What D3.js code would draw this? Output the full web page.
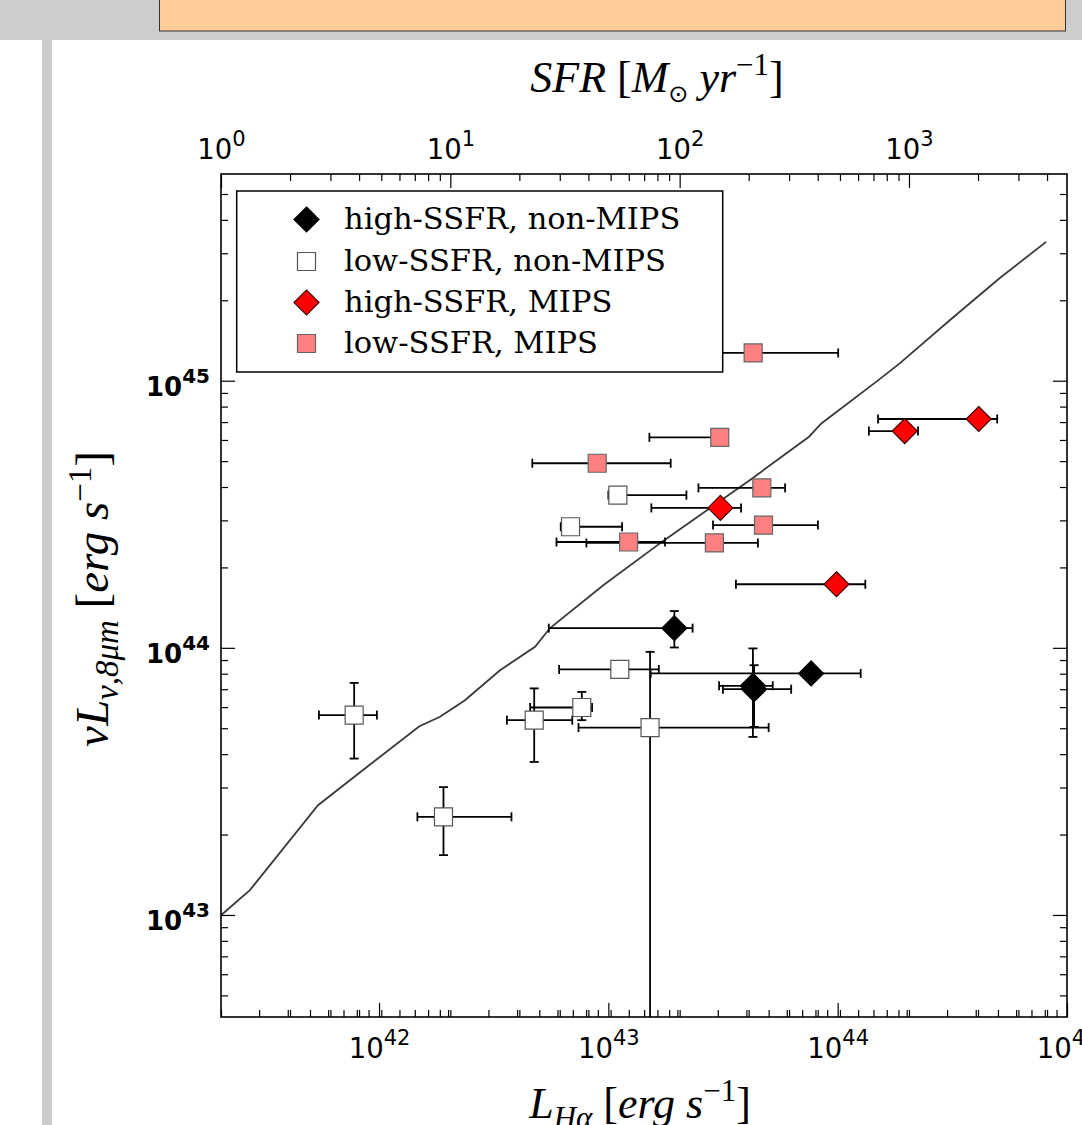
<!DOCTYPE html>
<html><head><meta charset="utf-8">
<script src="https://cdn.jsdelivr.net/npm/d3@7"></script>
<style>body{margin:0;background:#fff;} svg{display:block;}</style>
</head><body><svg id="c" width="1082" height="1125"></svg>
<script>
// ---------------- DATA ----------------
const seriesNames = ["high-SSFR, non-MIPS", "low-SSFR, non-MIPS", "high-SSFR, MIPS", "low-SSFR, MIPS"];
// each row: [L_Halpha, L_lo, L_hi, nuL8, nuL8_lo, nuL8_hi] (null = no y error)
const highNonMips = [
  [1.94e43, 5.50e42, 2.33e43, 1.185e44, 1.003e44, 1.373e44],
  [7.66e43, 1.53e43, 1.26e44, 8.02e43, null, null],
  [4.27e43, 3.04e43, 5.21e43, 7.21e43, 4.64e43, 9.95e43],
  [4.32e43, 3.16e43, 6.27e43, 7.00e43, 5.06e43, 8.61e43]
];
const lowNonMips = [
  [1.10e43, 1.00e43, 2.19e43, 3.73e44, null, null],
  [6.84e42, 6.20e42, 1.148e43, 2.84e44, null, null],
  [1.122e43, 6.10e42, 1.66e43, 8.30e43, null, null],
  [7.66e42, 4.56e42, 8.49e42, 5.98e43, 5.36e43, 6.84e43],
  [4.75e42, 3.61e42, 6.96e42, 5.36e43, 3.74e43, 7.05e43],
  [7.79e41, 5.47e41, 9.79e41, 5.60e43, 3.85e43, 7.39e43],
  [1.52e43, 7.41e42, 5.00e43, 5.03e43, 1.0e42, 9.66e43],
  [1.91e42, 1.47e42, 3.78e42, 2.33e43, 1.675e43, 3.01e43]
];
const highMips = [
  [4.12e44, 1.50e44, 4.96e44, 7.19e44, null, null],
  [1.96e44, 1.368e44, 2.24e44, 6.48e44, null, null],
  [3.08e43, 1.54e43, 3.79e43, 3.34e44, null, null],
  [9.88e43, 3.60e43, 1.32e44, 1.73e44, null, null]
];
const lowMips = [
  [4.28e43, 2.27e43, 1.005e44, 1.27e45, null, null],
  [3.06e43, 1.51e43, 3.23e43, 6.14e44, null, null],
  [8.94e42, 4.66e42, 1.87e43, 4.91e44, null, null],
  [4.67e43, 2.47e43, 5.90e43, 3.97e44, null, null],
  [4.75e43, 2.86e43, 8.20e43, 2.88e44, null, null],
  [1.226e43, 5.94e42, 1.766e43, 2.49e44, null, null],
  [2.90e43, 8.02e42, 4.49e43, 2.47e44, null, null]
];
// model relation curve
const curveL   = [2.046e41, 2.735e41, 5.42e41, 9.14e41, 1.50e42, 1.845e42, 2.37e42, 3.37e42, 4.79e42, 5.57e42, 9.53e42, 1.754e43, 4.15e43, 7.50e43, 8.49e43, 1.51e44, 1.87e44, 3.09e44, 5.11e44, 8.11e44];
const curveNuL = [9.98e42, 1.239e43, 2.576e43, 3.656e43, 5.09e43, 5.52e43, 6.37e43, 8.24e43, 1.009e44, 1.186e44, 1.718e44, 2.53e44, 4.25e44, 6.17e44, 6.92e44, 1.007e45, 1.164e45, 1.687e45, 2.43e45, 3.31e45];
// axes
const xDomain = [2.046e41, 1e45];
const yDomain = [4.15e42, 5.94e45];
const sfrDomain = [1, 4887];
const xMajorTicks = [1e42, 1e43, 1e44, 1e45];
const yMajorTicks = [1e43, 1e44, 1e45];
const sfrMajorTicks = [1, 10, 100, 1000];

// ---------------- LAYOUT ----------------
const svg = d3.select("#c");
const L = 221, R = 1067, T = 174, B = 1017;
const x = d3.scaleLog().domain(xDomain).range([L, R]);
const y = d3.scaleLog().domain(yDomain).range([B, T]);
const xs = d3.scaleLog().domain(sfrDomain).range([L, R]);

function minors(scale) {
  const [a, b] = scale.domain();
  const out = [];
  for (let e = Math.floor(Math.log10(a)); e <= Math.ceil(Math.log10(b)); e++)
    for (let k = 2; k <= 9; k++) { const v = k * Math.pow(10, e); if (v > a && v < b) out.push(v); }
  return out;
}

// background decoration
svg.append("rect").attr("x", 0).attr("y", 0).attr("width", 1082).attr("height", 40).attr("fill", "#cdcdcd");
svg.append("rect").attr("x", 42).attr("y", 40).attr("width", 10).attr("height", 1085).attr("fill", "#cccccc");
svg.append("rect").attr("x", 159.5).attr("y", -1).attr("width", 906).attr("height", 32)
  .attr("fill", "#ffcb99").attr("stroke", "#333").attr("stroke-width", 1);
svg.append("rect").attr("x", 52).attr("y", 40).attr("width", 1030).attr("height", 1085).attr("fill", "#fff");

// clip
svg.append("clipPath").attr("id", "clip").append("rect").attr("x", L).attr("y", T).attr("width", R - L).attr("height", B - T);
const plot = svg.append("g").attr("clip-path", "url(#clip)");

// curve
plot.append("path").datum(d3.zip(curveL, curveNuL))
  .attr("d", d3.line().x(d => x(d[0])).y(d => y(d[1])))
  .attr("fill", "none").attr("stroke", "#3a3a3a").attr("stroke-width", 1.8);

const diamond = "M0,-12.5L12.5,0L0,12.5L-12.5,0Z";
const square = "M-9,-9H9V9H-9Z";
const styles = [
  { data: highNonMips, path: diamond, fill: "#000", stroke: "#000" },
  { data: lowNonMips, path: square, fill: "#fff", stroke: "#555" },
  { data: highMips, path: diamond, fill: "#ff0000", stroke: "#400" },
  { data: lowMips, path: square, fill: "#ff8080", stroke: "#666" }
];
const cap = 4.5;
styles.forEach(s => {
  const g = plot.append("g");
  s.data.forEach(d => {
    const cx = x(d[0]), cy = y(d[3]);
    const eb = g.append("g").attr("stroke", "#000").attr("stroke-width", 1.8).attr("fill", "none");
    const x0 = x(d[1]), x1 = x(d[2]);
    eb.append("line").attr("x1", x0).attr("x2", x1).attr("y1", cy).attr("y2", cy);
    eb.append("line").attr("x1", x0).attr("x2", x0).attr("y1", cy - cap).attr("y2", cy + cap);
    eb.append("line").attr("x1", x1).attr("x2", x1).attr("y1", cy - cap).attr("y2", cy + cap);
    if (d[4] != null) {
      const y0 = y(d[4]), y1 = y(d[5]);
      eb.append("line").attr("x1", cx).attr("x2", cx).attr("y1", y0).attr("y2", y1);
      eb.append("line").attr("x1", cx - cap).attr("x2", cx + cap).attr("y1", y0).attr("y2", y0);
      eb.append("line").attr("x1", cx - cap).attr("x2", cx + cap).attr("y1", y1).attr("y2", y1);
    }
  });
  g.selectAll("path.m").data(s.data).join("path").attr("class", "m")
    .attr("d", s.path).attr("transform", d => `translate(${x(d[0])},${y(d[3])})`)
    .attr("fill", s.fill).attr("stroke", s.stroke).attr("stroke-width", 1.2);
});

// ---------------- AXES ----------------
function strip(g) { g.select(".domain").remove(); g.selectAll(".tick line").attr("stroke", "#000").attr("stroke-width", 1.2); }
function sup(textSel, base, exp, supSize, raise) {
  textSel.text(null);
  textSel.append("tspan").text(base);
  textSel.append("tspan").attr("dy", -raise).attr("font-size", supSize).text(exp);
}
// bottom: L ticks
svg.append("g").attr("transform", `translate(0,${B})`)
  .call(d3.axisBottom(x).tickValues(minors(x)).tickSize(-7).tickFormat(() => "")).call(strip);
svg.append("g").attr("transform", `translate(0,${B})`)
  .call(d3.axisBottom(xs).tickValues(minors(xs).concat(sfrMajorTicks)).tickSize(-7).tickFormat(() => "")).call(strip);
const gxb = svg.append("g").attr("transform", `translate(0,${B})`)
  .call(d3.axisBottom(x).tickValues(xMajorTicks).tickSize(-14).tickFormat(() => "")).call(strip);
gxb.selectAll(".tick text").attr("y", 41).attr("dy", 0).attr("fill", "#000")
  .attr("font-family", "DejaVu Sans").attr("font-size", 27.5)
  .each(function (d) { sup(d3.select(this), "10", String(Math.round(Math.log10(d))), 21, 13); });

// top: SFR ticks
svg.append("g").attr("transform", `translate(0,${T})`)
  .call(d3.axisTop(xs).tickValues(minors(xs)).tickSize(-7).tickFormat(() => "")).call(strip);
const gxt = svg.append("g").attr("transform", `translate(0,${T})`)
  .call(d3.axisTop(xs).tickValues(sfrMajorTicks).tickSize(-14).tickFormat(() => "")).call(strip);
gxt.selectAll(".tick text").attr("y", -14.7).attr("dy", 0).attr("fill", "#000")
  .attr("font-family", "DejaVu Sans").attr("font-size", 27.5)
  .each(function (d) { sup(d3.select(this), "10", String(Math.round(Math.log10(d))), 21, 13); });

// left
svg.append("g").attr("transform", `translate(${L},0)`)
  .call(d3.axisLeft(y).tickValues(minors(y)).tickSize(-7).tickFormat(() => "")).call(strip);
const gyl = svg.append("g").attr("transform", `translate(${L},0)`)
  .call(d3.axisLeft(y).tickValues(yMajorTicks).tickSize(-14).tickFormat(() => "")).call(strip);
gyl.selectAll(".tick text").attr("x", -11).attr("y", 14.5).attr("dy", 0).attr("fill", "#000")
  .attr("text-anchor", "end").attr("font-family", "DejaVu Sans").attr("font-weight", "bold").attr("font-size", 26)
  .each(function (d) { sup(d3.select(this), "10", String(Math.round(Math.log10(d))), 20, 13); });
// right
svg.append("g").attr("transform", `translate(${R},0)`)
  .call(d3.axisRight(y).tickValues(minors(y)).tickSize(-7).tickFormat(() => "")).call(strip);
svg.append("g").attr("transform", `translate(${R},0)`)
  .call(d3.axisRight(y).tickValues(yMajorTicks).tickSize(-14).tickFormat(() => "")).call(strip);

// frame
svg.append("rect").attr("x", L).attr("y", T).attr("width", R - L).attr("height", B - T)
  .attr("fill", "none").attr("stroke", "#000").attr("stroke-width", 1.6);

// ---------------- TITLES ----------------
const mf = "'Liberation Serif', 'Times New Roman', serif";
function mathLabel(g, parts, size) {
  const t = g.append("text").attr("font-family", mf).attr("font-size", size).attr("fill", "#000").attr("text-anchor", "middle");
  parts.forEach(p => {
    const ts = t.append("tspan").text(p.t);
    if (p.i) ts.attr("font-style", "italic");
    if (p.s) ts.attr("font-size", p.s);
    if (p.dy) ts.attr("dy", p.dy);
    if (p.f) ts.attr("font-family", p.f);
  });
  return t;
}
mathLabel(svg.append("g").attr("transform", "translate(657,92)"), [
  { t: "SFR", i: 1 }, { t: " [" }, { t: "M", i: 1 }, { t: "⊙", s: 24, dy: 10, f: "DejaVu Sans" },
  { t: " yr", i: 1, dy: -10 }, { t: "−1", s: 31, dy: -17 }, { t: "]", dy: 17 }
], 44);
mathLabel(svg.append("g").attr("transform", "translate(640,1118)"), [
  { t: "L", i: 1 }, { t: "Hα", i: 1, s: 31, dy: 10 }, { t: " [", dy: -10 }, { t: "erg s", i: 1 },
  { t: "−1", s: 31, dy: -17 }, { t: "]", dy: 17 }
], 44);
mathLabel(svg.append("g").attr("transform", "translate(108,599) rotate(-90)"), [
  { t: "νL", i: 1 }, { t: "ν,8μm", i: 1, s: 33, dy: 10 }, { t: " [", dy: -10 }, { t: "erg s", i: 1 },
  { t: "−1", s: 33, dy: -17 }, { t: "]", dy: 17 }
], 47);

// ---------------- LEGEND ----------------
const lg = svg.append("g");
lg.append("rect").attr("x", 236.7).attr("y", 191).attr("width", 486).attr("height", 181)
  .attr("fill", "#fff").attr("stroke", "#000").attr("stroke-width", 1.5);
const rows = [219.5, 261.5, 302.5, 343.5];
styles.forEach((s, i) => {
  lg.append("path").attr("d", s.path).attr("transform", `translate(306.5,${rows[i]})`)
    .attr("fill", s.fill).attr("stroke", s.stroke).attr("stroke-width", 1.2);
  lg.append("text").attr("x", 344).attr("y", rows[i] + 9).attr("font-family", "DejaVu Serif")
    .attr("font-size", 30.5).attr("fill", "#000").text(seriesNames[i]);
});
</script>
</body></html>
